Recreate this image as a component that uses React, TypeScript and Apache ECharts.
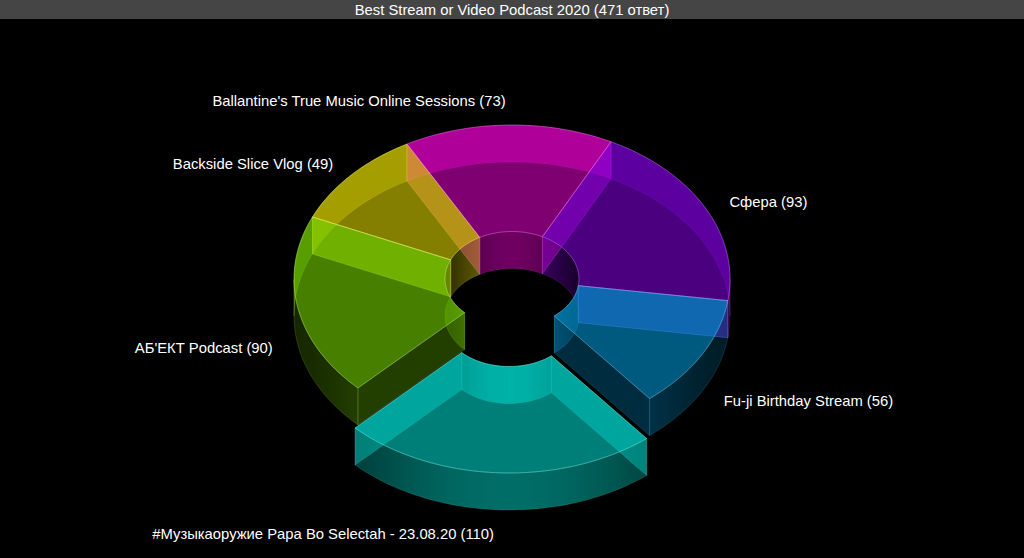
import React, { useEffect, useRef } from "react";
import * as echarts from "echarts";

const chartTitle = "Best Stream or Video Podcast 2020 (471 ответ)";
const categories = [
  "Сфера",
  "Fu-ji Birthday Stream",
  "#Музыкаоружие Papa Bo Selectah - 23.08.20",
  "АБ'ЕКТ Podcast",
  "Backside Slice Vlog",
  "Ballantine's True Music Online Sessions",
];
const values = [93, 56, 110, 90, 49, 73];
const explode = [0, 0, 0.26, 0, 0, 0];
const colors: number[][] = [
  [135, 0, 232],
  [0, 164, 232],
  [0, 232, 218],
  [130, 232, 0],
  [240, 232, 0],
  [232, 0, 204],
];
const backWallAlpha = [0.32, 0.3, 0.3, 0.3, 0.3, 0.46];
const faceOrder = [1, 0, 2, 3, 4, 5];
const labelOffsets: [number, number, string][] = [
  [24, -6, "left"],
  [22, 46, "left"],
  [-4, 61, "right"],
  [-25, 41, "right"],
  [-18, -11, "right"],
  [-3, -24, "right"],
];

const CX = 512, CY = 279, RX = 218, RY = 154, IRX = 67, IRY = 47.5, DEPTH = 37, START = 27;
const TOP_ALPHA = 0.55, FACE_ALPHA = 0.27;
const FONT = "14.8px 'Liberation Sans', Arial, sans-serif";

const total = values.reduce((a, b) => a + b, 0);
const rad = (d: number) => (d * Math.PI) / 180;
const rgba = (c: number[], a: number) => `rgba(${c[0]},${c[1]},${c[2]},${a})`;
const light = (c: number[], m: number) => c.map((v) => Math.round(v + (255 - v) * m));

function sliceAngles(i: number) {
  let s = START;
  for (let k = 0; k < i; k++) s += (values[k] / total) * 360;
  return [s, s + (values[i] / total) * 360];
}
function offsetOf(i: number) {
  const [a, b] = sliceAngles(i);
  const m = rad((a + b) / 2);
  return [Math.sin(m) * RX * explode[i], -Math.cos(m) * RY * explode[i]];
}
function pt(a: number, rx: number, ry: number, ox: number, oy: number, dz = 0) {
  return [CX + ox + Math.sin(rad(a)) * rx, CY + oy - Math.cos(rad(a)) * ry + dz];
}
function arc(a: number, b: number, rx: number, ry: number, ox: number, oy: number, dz = 0) {
  const n = Math.max(2, Math.ceil(Math.abs(b - a) / 1.5));
  const out: number[][] = [];
  for (let k = 0; k <= n; k++) out.push(pt(a + ((b - a) * k) / n, rx, ry, ox, oy, dz));
  return out;
}
function wallPoints(a: number, b: number, rx: number, ry: number, ox: number, oy: number) {
  return [...arc(a, b, rx, ry, ox, oy), ...arc(b, a, rx, ry, ox, oy, DEPTH)];
}
function wallGradient(c: number[], x0: number, rx: number, base: number, peak: number, pow: number) {
  const colorStops = [];
  for (let k = 0; k <= 24; k++) {
    const u = k / 12 - 1;
    colorStops.push({ offset: k / 24, color: rgba(c, +(base + peak * Math.pow(1 - u * u, pow)).toFixed(3)) });
  }
  return { type: "linear", x: x0 - rx, y: 0, x2: x0 + rx, y2: 0, global: true, colorStops };
}
function splitFrontBack(a: number, b: number) {
  const cuts = [90, 270, 450];
  const parts: { a: number; b: number; front: boolean }[] = [];
  let cur = a;
  for (const c of cuts) {
    if (c > cur && c < b) {
      parts.push({ a: cur, b: c, front: (cur + c) / 2 > 90 && (cur + c) / 2 < 270 });
      cur = c;
    }
  }
  parts.push({ a: cur, b, front: (cur + b) / 2 > 90 && (cur + b) / 2 < 270 });
  return parts;
}

function renderFaces(_p: any, api: any) {
  const i = api.value(0) as number;
  const [a, b] = sliceAngles(i);
  const [ox, oy] = offsetOf(i);
  const c = colors[i];
  const edge = rgba(light(c, 0.35), 0.22);
  const children: any[] = [];
  const line = { stroke: edge, lineWidth: 0.8 };
  for (const p of splitFrontBack(a, b)) {
    children.push({
      type: "polygon",
      shape: { points: wallPoints(p.a, p.b, RX, RY, ox, oy) },
      style: {
        fill: p.front ? wallGradient(c, CX + ox, RX, 0.17, 0.3, 1.6) : rgba(c, backWallAlpha[i]),
        ...line,
      },
    });
  }
  children.push({
    type: "polygon",
    shape: { points: wallPoints(a, b, IRX, IRY, ox, oy) },
    style: { fill: wallGradient(c, CX + ox, IRX, 0.2, 0.28, 1.5), ...line },
  });
  for (const e of [a, b]) {
    const o1 = pt(e, RX, RY, ox, oy), o2 = pt(e, IRX, IRY, ox, oy);
    const o3 = pt(e, IRX, IRY, ox, oy, DEPTH), o4 = pt(e, RX, RY, ox, oy, DEPTH);
    children.push({
      type: "polygon",
      shape: { points: [o1, o2, o3, o4] },
      style: { fill: rgba(c, explode[i] > 0 ? FACE_ALPHA + 0.11 : FACE_ALPHA), ...line },
    });
  }
  return { type: "group", children };
}

function renderTops(_p: any, api: any) {
  const i = api.value(0) as number;
  const [a, b] = sliceAngles(i);
  const [ox, oy] = offsetOf(i);
  const c = colors[i];
  const mid = (a + b) / 2;
  const anchor = pt(mid, RX, RY, ox, oy);
  const [dx, dy, align] = labelOffsets[i];
  return {
    type: "group",
    children: [
      {
        type: "polygon",
        shape: { points: [...arc(a, b, RX, RY, ox, oy), ...arc(b, a, IRX, IRY, ox, oy)] },
        style: { fill: rgba(c, TOP_ALPHA), stroke: rgba(light(c, 0.5), 0.5), lineWidth: 0.8 },
      },
      {
        type: "text",
        style: {
          text: `${categories[i]} (${api.value(1)})`,
          x: anchor[0] + dx,
          y: anchor[1] + dy,
          fill: "#ffffff",
          font: FONT,
          align,
          verticalAlign: "middle",
          textAlign: align,
          textVerticalAlign: "middle",
        },
      },
    ],
  };
}

export default function App() {
  const ref = useRef<HTMLDivElement>(null);
  useEffect(() => {
    document.body.style.margin = "0";
    document.body.style.background = "#000";
    const chart = echarts.init(ref.current!, undefined, { renderer: "svg" });
    chart.setOption({
      animation: false,
      backgroundColor: "#000000",
      title: {
        text: chartTitle,
        left: "center",
        top: 1,
        padding: 0,
        textStyle: {
          color: "#ffffff",
          fontSize: 14.8,
          fontWeight: "normal",
          fontFamily: "'Liberation Sans', Arial, sans-serif",
          lineHeight: 17,
        },
        z: 10,
      },
      graphic: [
        { type: "rect", z: 0, shape: { x: 0, y: 0, width: 1024, height: 19 }, style: { fill: "#454545" } },
      ],
      series: [
        {
          type: "custom",
          coordinateSystem: "none",
          silent: true,
          z: 2,
          data: faceOrder.map((i) => [i, values[i]]),
          renderItem: renderFaces,
        },
        {
          type: "custom",
          coordinateSystem: "none",
          silent: true,
          z: 3,
          data: values.map((v, i) => [i, v]),
          renderItem: renderTops,
        },
      ],
    });
    return () => chart.dispose();
  }, []);
  return <div ref={ref} style={{ position: "fixed", left: 0, top: 0, width: 1024, height: 558 }} />;
}
